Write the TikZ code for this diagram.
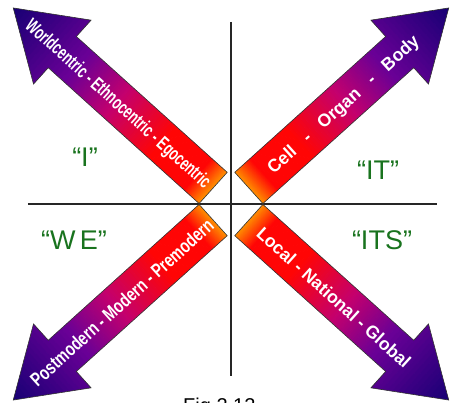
\documentclass[tikz,border=0pt]{standalone}
\usepackage{fontspec}
\setmainfont{Liberation Sans}
\usepackage{graphicx}
\usepackage{xcolor}
\definecolor{arrOrange}{RGB}{255,140,0}
\definecolor{arrRed}{RGB}{255,5,5}
\definecolor{arrMag}{RGB}{195,0,110}
\definecolor{arrPurp}{RGB}{105,0,150}
\definecolor{arrNavy}{RGB}{20,0,115}
\definecolor{qgreen}{RGB}{25,115,30}

\begin{document}
\begin{tikzpicture}[x=1pt,y=1pt,
  axisline/.style={draw=black!85,line width=1.1pt},
  arrowtext/.style={text=white,font=\bfseries,inner sep=0pt,
                    text height=14pt,text depth=0pt},
  quadlabel/.style={text=qgreen,font=\fontsize{27}{30}\selectfont},
  quadarrow/.pic={
    \begin{scope}
      \clip (24,-21) -- (227,-21) -- (227,-43) -- (293,0) -- (227,43)
            -- (227,21) -- (24,21) -- cycle;
      \foreach \xa/\xb/\colA/\colB in {24/44/arrOrange/arrRed, 44/90/arrRed/arrRed,
          90/152/arrRed/arrMag, 152/205/arrMag/arrPurp, 205/294/arrPurp/arrNavy}{
        \foreach \k in {0,...,19}{
          \pgfmathsetmacro\xl{\xa+(\xb-\xa)*\k/20}
          \pgfmathsetmacro\xr{\xa+(\xb-\xa)*(\k+1)/20+0.6}
          \pgfmathtruncatemacro\mixpct{5*\k}
          \fill[fill={\colB!\mixpct!\colA}] (\xl,-45) rectangle (\xr,45);
        }
      }
    \end{scope}
    \draw[black!80,line width=0.6pt] (24,-21) -- (227,-21) -- (227,-43)
      -- (293,0) -- (227,43) -- (227,21) -- (24,21) -- cycle;
  },
]
\useasboundingbox (-231,-199) rectangle (227,204);
\clip (-231,-199) rectangle (227,204);

% quadrant axes
\coordinate (vtop) at (0,182);
\coordinate (vbot) at (0,-172);
\coordinate (hleft) at (-203,0);
\coordinate (hright) at (206,0);
\draw[axisline] (vtop) -- (vbot);
\draw[axisline] (hleft) -- (hright);

% the four arrows
\pic[rotate=138] at (0,0) {quadarrow};
\pic[rotate=42] at (0,0) {quadarrow};
\pic[rotate=222] at (0,0) {quadarrow};
\pic[rotate=-42] at (0,0) {quadarrow};

\node[arrowtext,rotate=-42] (egotext) at (138:151)
  {\resizebox{242pt}{14pt}{Worldcentric - Ethnocentric - Egocentric}};
\node[arrowtext,rotate=42] (celltext) at (42:150)
  {\resizebox{197pt}{13pt}{Cell\ \ \ -\ \ \ Organ\ \ \ -\ \ \ Body}};
\node[arrowtext,rotate=42] (moderntext) at (222:147)
  {\resizebox{239pt}{14pt}{Postmodern - Modern - Premodern}};
\node[arrowtext,rotate=-42] (localtext) at (-42:139)
  {\resizebox{200pt}{13pt}{Local\ -\ National\ -\ Global}};

% quadrant labels
\node[quadlabel] (ilabel) at (-146,47) {“I”};
\node[quadlabel] (itlabel) at (147,34) {“IT”};
\node[quadlabel] (welabel) at (-157,-36) {“W\,E”};
\node[quadlabel] (itslabel) at (151,-36) {“ITS”};

\node[font=\fontsize{20}{22}\selectfont,anchor=north west,inner sep=0pt]
  (figcap) at (-48,-194) {Fig 2.12};
\end{tikzpicture}
\end{document}
